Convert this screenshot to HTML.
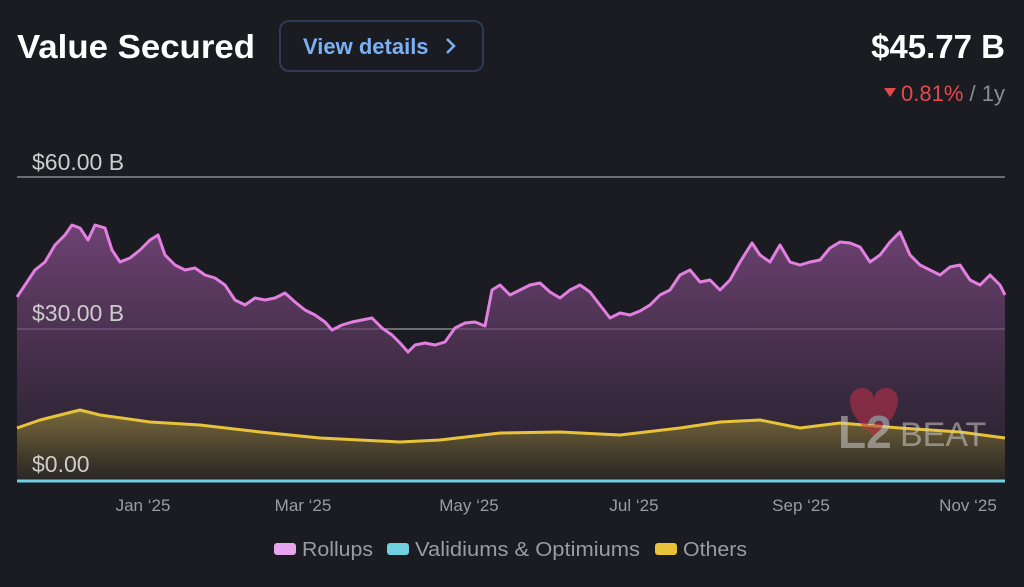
<!DOCTYPE html>
<html><head><meta charset="utf-8"><style>
body{margin:0;background:#1b1c22;width:1024px;height:587px;overflow:hidden;font-family:"Liberation Sans",sans-serif;}
</style></head><body>
<svg width="1024" height="587" xmlns="http://www.w3.org/2000/svg" style="position:absolute;left:0;top:0">
<defs>
<linearGradient id="gp" x1="0" y1="0" x2="0" y2="1"><stop offset="0" stop-color="#8a4f8e" stop-opacity="0.75"/><stop offset="1" stop-color="#2a2330" stop-opacity="0.6"/></linearGradient>
<linearGradient id="gy" x1="0" y1="0" x2="0" y2="1"><stop offset="0" stop-color="#8a7a3a" stop-opacity="0.8"/><stop offset="1" stop-color="#2a2722" stop-opacity="0.7"/></linearGradient>
</defs>
<text x="17" y="58" font-size="33" font-weight="bold" fill="#fff" textLength="238" lengthAdjust="spacingAndGlyphs">Value Secured</text>
<rect x="280" y="21" width="203" height="50" rx="9" fill="#1b1c22" stroke="#2e3a55" stroke-width="2"/>
<text x="303" y="54" font-size="22" font-weight="bold" fill="#7cb0f5">View details</text>
<path d="M447 39 L454 46 L447 53" stroke="#7cb0f5" stroke-width="2.5" fill="none"/>
<text x="1005" y="58" font-size="33" font-weight="bold" fill="#fff" text-anchor="end">$45.77 B</text>
<path d="M884 88 L896 88 L890 97 Z" fill="#e5484d"/>
<text x="1005" y="101" font-size="22" text-anchor="end"><tspan fill="#e5484d">0.81%</tspan><tspan fill="#8b8d94"> / 1y</tspan></text>
<line x1="17" y1="177" x2="1005" y2="177" stroke="#888" stroke-width="1.5"/>
<line x1="17" y1="329" x2="1005" y2="329" stroke="#888" stroke-width="1.5"/>
<path d="M17,297 L25,285 L35,270 L45,262 L55,245 L65,235 L72,225 L80,228 L88,240 L95,225 L105,228 L112,250 L120,262 L130,258 L140,250 L150,240 L158,235 L165,255 L175,265 L185,270 L195,268 L205,275 L215,278 L225,285 L235,300 L245,305 L255,298 L265,300 L275,298 L285,293 L295,302 L305,310 L315,315 L325,322 L332,330 L342,325 L352,322 L362,320 L372,318 L382,328 L392,335 L400,343 L408,352 L415,345 L425,343 L435,345 L445,342 L455,328 L465,323 L475,322 L485,326 L492,290 L500,285 L510,295 L520,290 L530,285 L540,283 L550,292 L560,298 L570,290 L580,285 L590,292 L600,305 L610,318 L620,313 L630,315 L640,311 L650,305 L660,295 L670,290 L680,275 L690,270 L700,282 L710,280 L720,290 L730,280 L740,262 L752,243 L760,255 L770,262 L780,245 L790,262 L800,265 L810,262 L820,260 L830,248 L840,242 L850,243 L860,247 L870,262 L880,255 L890,242 L900,232 L910,255 L920,265 L930,270 L940,275 L950,267 L960,265 L970,280 L980,285 L990,275 L1000,285 L1005,295 L1005,481 L17,481 Z" fill="url(#gp)"/>
<polyline points="17,297 25,285 35,270 45,262 55,245 65,235 72,225 80,228 88,240 95,225 105,228 112,250 120,262 130,258 140,250 150,240 158,235 165,255 175,265 185,270 195,268 205,275 215,278 225,285 235,300 245,305 255,298 265,300 275,298 285,293 295,302 305,310 315,315 325,322 332,330 342,325 352,322 362,320 372,318 382,328 392,335 400,343 408,352 415,345 425,343 435,345 445,342 455,328 465,323 475,322 485,326 492,290 500,285 510,295 520,290 530,285 540,283 550,292 560,298 570,290 580,285 590,292 600,305 610,318 620,313 630,315 640,311 650,305 660,295 670,290 680,275 690,270 700,282 710,280 720,290 730,280 740,262 752,243 760,255 770,262 780,245 790,262 800,265 810,262 820,260 830,248 840,242 850,243 860,247 870,262 880,255 890,242 900,232 910,255 920,265 930,270 940,275 950,267 960,265 970,280 980,285 990,275 1000,285 1005,295" fill="none" stroke="#e27fe0" stroke-width="3" stroke-linejoin="round"/>
<path d="M17,428 L40,420 L80,410 L100,415 L150,422 L200,425 L260,432 L320,438 L400,442 L440,440 L500,433 L560,432 L620,435 L680,428 L720,422 L760,420 L800,428 L840,423 L900,428 L960,432 L1005,438 L1005,481 L17,481 Z" fill="url(#gy)"/>
<polyline points="17,428 40,420 80,410 100,415 150,422 200,425 260,432 320,438 400,442 440,440 500,433 560,432 620,435 680,428 720,422 760,420 800,428 840,423 900,428 960,432 1005,438" fill="none" stroke="#e8c33a" stroke-width="3" stroke-linejoin="round"/>
<line x1="17" y1="481" x2="1005" y2="481" stroke="#6ed0e0" stroke-width="3"/>
<text x="32" y="170" font-size="23" fill="#ccc">$60.00 B</text>
<text x="32" y="321" font-size="23" fill="#ccc">$30.00 B</text>
<text x="32" y="472" font-size="23" fill="#ccc">$0.00</text>
<g opacity="0.55"><path d="M850 400 a12 12 0 0 1 24 0 a12 12 0 0 1 24 0 q0 18 -24 36 q-24 -18 -24 -36z" fill="#c2304a"/>
<text x="838" y="448" font-size="46" fill="#ccc" font-weight="bold">L2</text><text x="900" y="446" font-size="34" fill="#ccc">BEAT</text></g>
<g font-size="17" fill="#9a9ca3" text-anchor="middle">
<text x="143" y="511">Jan ‘25</text><text x="303" y="511">Mar ‘25</text><text x="469" y="511">May ‘25</text><text x="634" y="511">Jul ‘25</text><text x="801" y="511">Sep ‘25</text><text x="968" y="511">Nov ‘25</text></g>
<rect x="274" y="543" width="22" height="12" rx="3" fill="#e7a5ef"/>
<text x="302" y="556" font-size="20" fill="#9a9ca3" textLength="71" lengthAdjust="spacingAndGlyphs">Rollups</text>
<rect x="387" y="543" width="22" height="12" rx="3" fill="#6ed0e0"/>
<text x="415" y="556" font-size="20" fill="#9a9ca3" textLength="225" lengthAdjust="spacingAndGlyphs">Validiums &amp; Optimiums</text>
<rect x="655" y="543" width="22" height="12" rx="3" fill="#e8c33a"/>
<text x="683" y="556" font-size="20" fill="#9a9ca3" textLength="64" lengthAdjust="spacingAndGlyphs">Others</text>
</svg>
</body></html>
